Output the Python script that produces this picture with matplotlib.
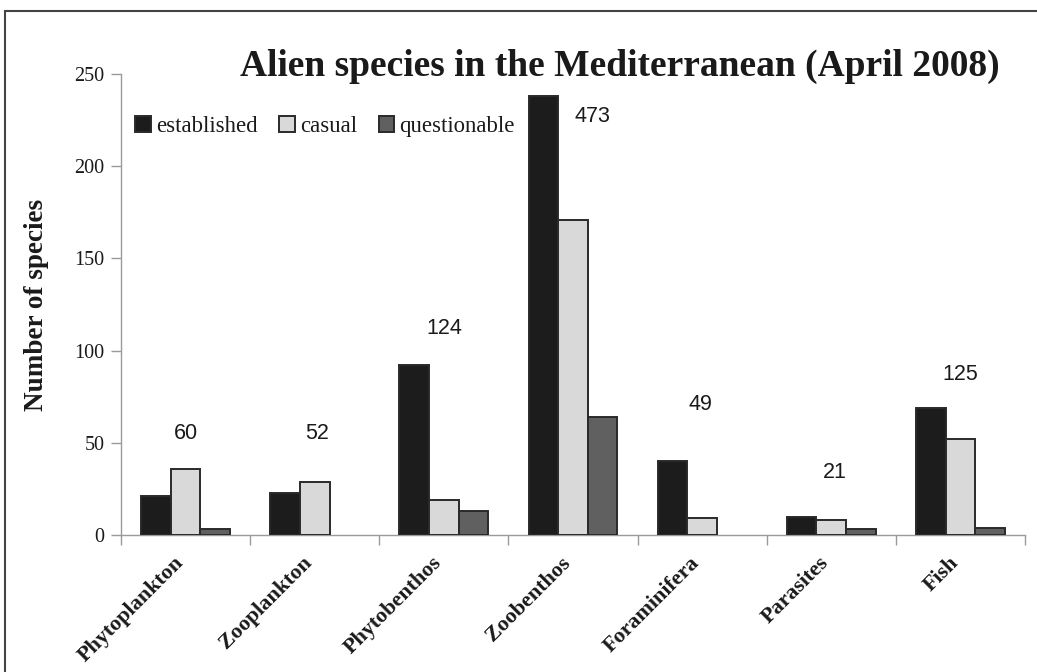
import matplotlib
matplotlib.use("Agg")
import matplotlib.pyplot as plt
import numpy as np
from matplotlib.patches import Rectangle

# ---- data ----
categories = ["Phytoplankton", "Zooplankton", "Phytobenthos", "Zoobenthos",
              "Foraminifera", "Parasites", "Fish"]
established = [21, 23, 92, 238, 40, 10, 69]
casual = [36, 29, 19, 171, 9, 8, 52]
questionable = [3, 0, 13, 64, 0, 3, 4]
series_names = ["established", "casual", "questionable"]
yticks = [0, 50, 100, 150, 200, 250]

# total labels placement (x offset from group centre, y in data units)
label_dx = [0.0, 0.02, 0.0, 0.15, -0.01, 0.03, 0.0]
label_y = [55, 55, 112, 227, 71, 34, 87]

serif = "Liberation Serif"
sans = "Liberation Sans"
txt = "#1a1a1a"

fig = plt.figure(figsize=(10.37, 6.72), dpi=100)
ax = fig.add_axes([0.1167, 0.2039, 0.9884 - 0.1167, 0.8899 - 0.2039])

x = np.arange(len(categories))
w = 0.229
colors = ["#1c1c1c", "#d9d9d9", "#606060"]
edge = "#2a2a2a"
for k, (vals, name, c) in enumerate(zip([established, casual, questionable], series_names, colors)):
    vals = np.array(vals, dtype=float)
    mask = vals > 0
    ax.bar(x[mask] + (k - 1) * w, vals[mask], width=w, color=c, edgecolor=edge,
           linewidth=1.4, label=name, zorder=3)

totals = [a + b + c for a, b, c in zip(established, casual, questionable)]
for i, t in enumerate(totals):
    ax.text(i + label_dx[i], label_y[i], str(t), ha="center", va="center",
            fontsize=15.5, family=sans, color=txt)

ax.set_xlim(-0.5, len(categories) - 0.5)
ax.set_ylim(0, 250)
ax.set_yticks(yticks)
ax.set_yticklabels([str(v) for v in yticks], family=serif, fontsize=14.5, color=txt)
# category labels anchored near the group centres (invisible major ticks)
ax.set_xticks(x - 0.095)
ax.set_xticklabels(categories, rotation=45, ha="right", va="top", rotation_mode="anchor",
                   family=serif, fontweight="bold", fontsize=15.8, color=txt)
ax.set_xticks(np.arange(-0.5, len(categories), 1.0), minor=True)
ax.tick_params(axis="x", which="major", length=0, pad=13)
ax.tick_params(axis="x", which="minor", length=7, color="#9a9a9a", width=1)
ax.tick_params(axis="y", length=7, color="#9a9a9a", width=1, pad=5)

for s in ["top", "right"]:
    ax.spines[s].set_visible(False)
for s in ["left", "bottom"]:
    ax.spines[s].set_color("#9a9a9a")
    ax.spines[s].set_linewidth(1.0)

ax.set_ylabel("Number of species", family=serif, fontweight="bold", fontsize=19.5, color=txt,
              labelpad=18)
fig.text(0.598, 0.901, "Alien species in the Mediterranean (April 2008)", ha="center",
         va="center", family=serif, fontweight="bold", fontsize=27, color=txt)

leg = ax.legend(loc="center left", bbox_to_anchor=(0.016, 0.887), ncol=3, frameon=False,
                prop={"family": serif, "size": 16.4}, handlelength=0.7, handleheight=0.7,
                handletextpad=0.2, columnspacing=0.95, borderaxespad=0, borderpad=0)
for t in leg.get_texts():
    t.set_color(txt)

fig.patches.append(Rectangle((4.5 / 1037, -0.5), 2.0, 0.5 + (672 - 10.5) / 672,
                             transform=fig.transFigure, fill=False, edgecolor="#444444",
                             linewidth=1.5, zorder=0))

fig.savefig("out.png", dpi=100)
